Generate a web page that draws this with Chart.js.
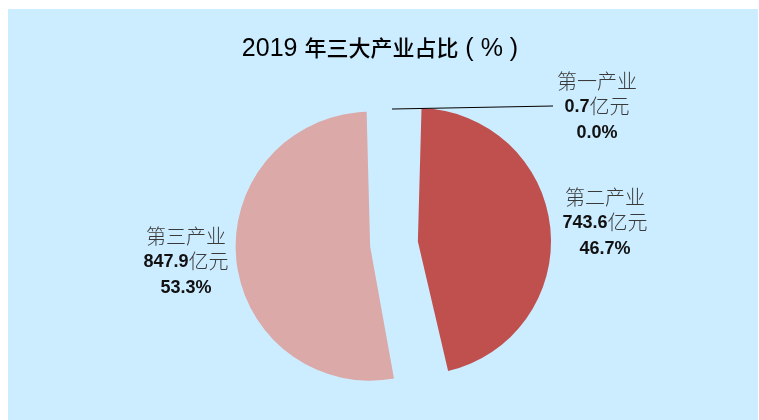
<!DOCTYPE html>
<html>
<head>
<meta charset="utf-8">
<script src="https://cdn.jsdelivr.net/npm/chart.js@4.4.1/dist/chart.umd.min.js"></script>
<style>
  html, body { margin: 0; padding: 0; background: #fff; }
  #wrap { position: relative; width: 759px; height: 420px; overflow: hidden; }
  #panel { position: absolute; left: 8px; top: 9px; right: 1px; bottom: 0; background: #CCECFF; }
  #pieChart { position: absolute; left: 0; top: 0; }
</style>
</head>
<body>
<div id="wrap">
  <div id="panel"></div>
  <canvas id="pieChart" width="759" height="420"></canvas>
</div>
<script>
// ================= DATA =================
const TITLE = "2019 年三大产业占比 ( % )";
const categories = ["第一产业", "第二产业", "第三产业"];
const values = [0.7, 743.6, 847.9]; // 亿元
const sliceColors = ["#953735", "#C0504D", "#DBA9A8"];

// ================= LABEL LAYOUT =================
const LABEL_POS = [
  { x: 597, y: 81 },
  { x: 605, y: 197 },
  { x: 186, y: 236 }
];
const LINE_GAP = 25.5;
const LEADER_END = { x: 553, y: 106 };

const total = values.reduce((s, v) => s + v, 0);
const valueLabels = values.map(v => v.toFixed(1) + "亿元");
const percentLabels = values.map(v => (v / total * 100).toFixed(1) + "%");

// draw a line of text, CJK runs and latin runs in different fonts
function drawMixed(ctx, text, cx, y, cjk, latin, baseline) {
  const runs = [];
  for (const ch of text) {
    const isCjk = /[\u3000-\u9fff\uff00-\uffef]/.test(ch);
    const last = runs[runs.length - 1];
    if (last && last.cjk === isCjk) last.text += ch;
    else runs.push({ text: ch, cjk: isCjk });
  }
  let width = 0;
  runs.forEach(r => {
    ctx.font = r.cjk ? cjk.font : latin.font;
    r.w = ctx.measureText(r.text).width;
    width += r.w;
  });
  let x = cx - width / 2;
  ctx.textAlign = "left";
  ctx.textBaseline = baseline || "middle";
  runs.forEach(r => {
    const f = r.cjk ? cjk : latin;
    ctx.font = f.font;
    ctx.fillStyle = f.color;
    ctx.fillText(r.text, x, y + (f.dy || 0));
    x += r.w;
  });
}

const titleCjk = { font: "500 22px 'Noto Sans CJK SC'", color: "#000" };
const titleLatin = { font: "25px 'Liberation Sans'", color: "#000" };
const labelCjk = { font: "300 20px 'Noto Sans CJK SC'", color: "#3a3a3a" };
const labelLatin = { font: "bold 18px 'Liberation Sans'", color: "#111", dy: 1 };

const labelPlugin = {
  id: "sliceLabels",
  afterDatasetsDraw(chart) {
    const ctx = chart.ctx;
    const arcs = chart.getDatasetMeta(0).data;
    ctx.save();

    // title
    drawMixed(ctx, TITLE, 380, 56, titleCjk, titleLatin, "alphabetic");

    // leader line for the tiny first slice, from where the arc is drawn
    const a = arcs[0];
    const t = (a.options.offset || 0) / 4;
    const fix = 1 - Math.sin(Math.min(Math.PI, a.circumference));
    const r = a.outerRadius + t * fix;
    const half = (a.startAngle + a.endAngle) / 2;
    const cx = a.x + Math.cos(half) * t;
    const cy = a.y + Math.sin(half) * t;
    ctx.beginPath();
    ctx.moveTo(cx + Math.cos(a.startAngle) * r, cy + Math.sin(a.startAngle) * r);
    ctx.lineTo(LEADER_END.x, LEADER_END.y);
    ctx.strokeStyle = "#000";
    ctx.lineWidth = 1;
    ctx.stroke();

    // labels
    categories.forEach((c, i) => {
      const p = LABEL_POS[i];
      drawMixed(ctx, c, p.x, p.y, labelCjk, labelLatin);
      drawMixed(ctx, valueLabels[i], p.x, p.y + LINE_GAP, labelCjk, labelLatin);
      drawMixed(ctx, percentLabels[i], p.x, p.y + LINE_GAP * 2, labelCjk, labelLatin);
    });
    ctx.restore();
  }
};

// ================= CHART =================
// Chart.js v4 shifts an arc by offset/4 and grows it by offset/4 * (1 - sin(circumference)),
// so the offsets and radius are picked to land on ~133px slices exploded ~24px
new Chart(document.getElementById("pieChart"), {
  type: "pie",
  data: {
    labels: categories,
    datasets: [{
      data: values,
      backgroundColor: sliceColors,
      borderWidth: 0,
      offset: [45, 104, 88],
      hoverOffset: 0,
      radius: 112.5
    }]
  },
  options: {
    responsive: false,
    animation: false,
    layout: { padding: { left: 25, right: 0, top: 84, bottom: 16 } },
    plugins: {
      legend: { display: false },
      title: { display: false },
      tooltip: { enabled: false }
    }
  },
  plugins: [labelPlugin]
});
</script>
</body>
</html>
